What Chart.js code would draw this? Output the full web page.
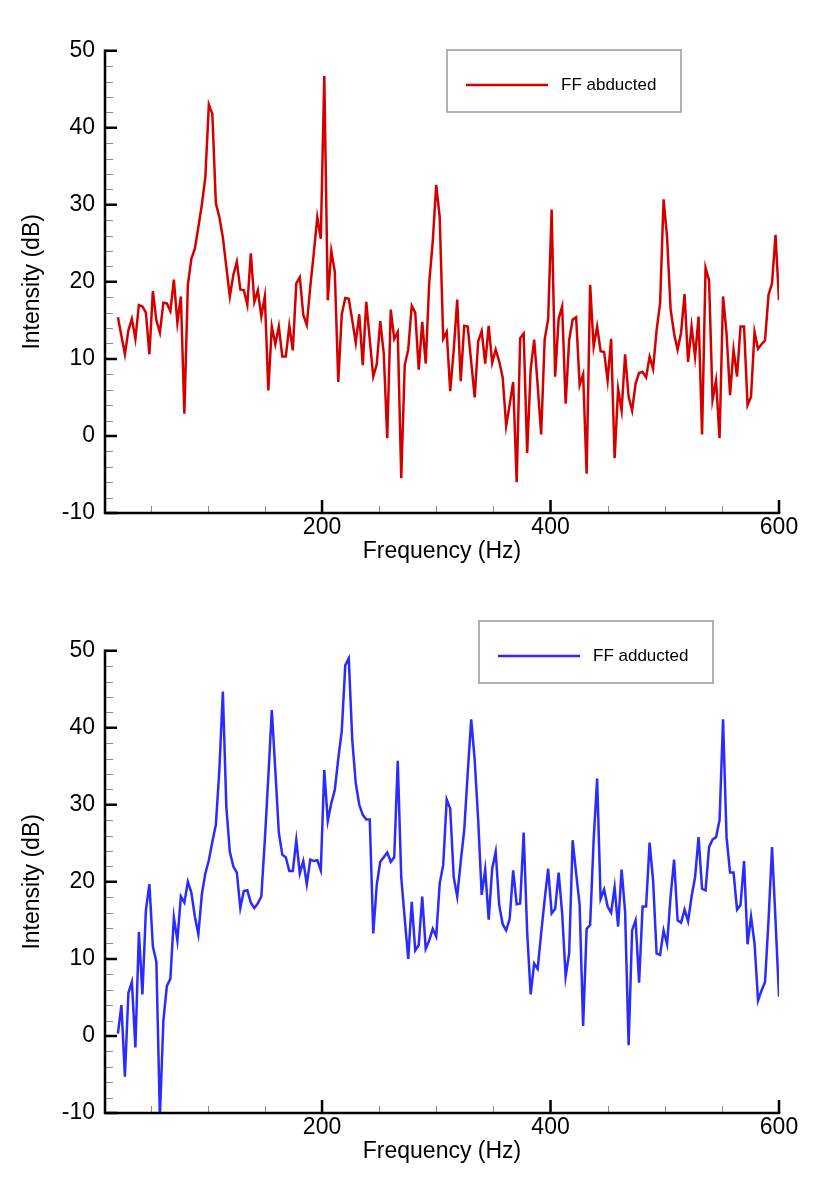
<!DOCTYPE html>
<html>
<head>
<meta charset="utf-8">
<title>FF abducted / FF adducted spectra</title>
<script src="https://cdn.jsdelivr.net/npm/chart.js@4.4.1/dist/chart.umd.min.js"></script>
<style>
    html, body { margin: 0; padding: 0; background: #fff; overflow: hidden; }
    .panel { position: absolute; left: 0; }
    .panel canvas { display: block; }
</style>
</head>
<body>
<div class="panel" style="top:0"><canvas id="abducted" width="819" height="590"></canvas></div>
<div class="panel" style="top:600px"><canvas id="adducted" width="819" height="579"></canvas></div>
<script>
(function () {
    "use strict";

    // Frequency bins (Hz): first bin and bin width
    var freqStart = 21.3;
    var freqStep = 3.062;

    // Intensity (dB) - FF abducted
    var abductedDb = [
        15.4, 13.0, 10.6, 13.7, 15.2, 12.6, 17.0, 16.8, 16.0, 10.6,
        18.8, 15.0, 13.4, 17.3, 17.2, 16.2, 20.3, 14.7, 18.1, 2.9,
        19.6, 23.0, 24.3, 27.1, 30.0, 33.6, 43.0, 41.8, 30.2, 28.4,
        25.8, 21.9, 18.1, 20.9, 22.6, 19.0, 18.9, 17.0, 23.7, 17.4,
        18.9, 15.5, 18.1, 5.9, 14.2, 11.9, 14.2, 10.3, 10.3, 14.3,
        11.1, 19.8, 20.6, 15.7, 14.4, 19.4, 23.7, 28.4, 25.6, 46.7,
        17.6, 24.0, 21.3, 7.0, 15.8, 17.9, 17.8, 15.0, 12.1, 15.8,
        9.2, 17.4, 12.5, 7.7, 9.3, 14.9, 10.7, -0.3, 16.4, 12.6,
        13.5, -5.5, 9.2, 11.2, 16.9, 16.0, 8.6, 14.8, 9.4, 19.9,
        25.2, 32.6, 28.4, 12.6, 13.5, 5.8, 11.1, 17.7, 7.1, 14.3,
        14.2, 9.6, 5.0, 12.3, 13.6, 9.4, 14.3, 9.5, 11.2, 9.7,
        7.6, 1.3, 4.1, 7.0, -6.0, 12.7, 13.3, -2.2, 8.6, 12.5,
        6.6, 0.2, 12.5, 15.2, 29.4, 7.7, 15.2, 16.8, 4.2, 12.4,
        15.1, 15.4, 6.6, 8.0, -4.9, 19.6, 11.6, 14.2, 11.0, 10.9,
        7.2, 12.6, -2.9, 6.1, 3.3, 10.6, 5.1, 3.3, 6.8, 8.2,
        8.3, 7.6, 10.3, 8.7, 13.7, 17.2, 30.7, 25.8, 16.5, 13.3,
        11.2, 13.4, 18.4, 9.6, 14.2, 10.3, 15.5, 0.2, 21.8, 20.2,
        4.7, 7.2, -0.3, 18.1, 13.3, 5.3, 11.2, 7.7, 14.2, 14.2,
        4.0, 5.1, 13.5, 11.3, 11.9, 12.4, 18.3, 19.8, 26.1, 17.6
    ];

    // Intensity (dB) - FF adducted
    var adductedDb = [
        0.3, 4.0, -5.3, 5.6, 7.0, -1.5, 13.5, 5.4, 16.3, 19.7,
        11.6, 9.6, -10.5, 2.0, 6.5, 7.4, 15.4, 12.4, 18.1, 17.3,
        20.0, 18.6, 15.5, 13.2, 18.4, 21.1, 22.8, 25.2, 27.4, 34.5,
        44.7, 29.7, 23.9, 22.0, 21.2, 16.6, 18.8, 18.9, 17.3, 16.6,
        17.2, 18.1, 25.4, 33.6, 42.3, 34.5, 26.4, 23.5, 23.2, 21.4,
        21.4, 25.4, 21.1, 22.7, 19.7, 22.9, 22.7, 22.8, 21.5, 34.5,
        27.9, 30.2, 31.9, 36.0, 39.6, 48.1, 49.0, 38.4, 32.8, 30.0,
        28.7, 28.1, 28.1, 13.3, 19.6, 22.6, 23.2, 23.8, 22.6, 23.2,
        35.7, 20.6, 15.2, 10.0, 17.4, 11.1, 11.8, 18.1, 11.3, 12.4,
        13.9, 12.9, 19.8, 22.2, 30.7, 29.5, 20.6, 18.1, 22.6, 26.7,
        34.1, 41.1, 35.8, 28.0, 18.3, 21.6, 15.1, 21.7, 23.9, 17.0,
        14.5, 13.7, 15.2, 21.5, 17.1, 17.2, 26.4, 13.5, 5.4, 9.4,
        8.7, 13.3, 17.7, 21.7, 15.9, 16.5, 21.2, 15.9, 7.7, 10.7,
        25.4, 21.1, 17.0, 1.3, 13.9, 14.4, 25.4, 33.4, 17.8, 19.0,
        16.8, 16.0, 19.3, 14.2, 21.6, 16.1, -1.2, 13.7, 15.0, 6.9,
        16.8, 16.8, 25.1, 20.2, 10.7, 10.5, 13.7, 11.9, 18.1, 22.9,
        15.0, 14.7, 16.4, 14.9, 18.1, 20.6, 25.8, 19.1, 18.9, 24.5,
        25.5, 25.8, 28.0, 41.1, 25.8, 21.2, 21.2, 16.4, 17.0, 22.7,
        11.9, 15.5, 12.0, 4.6, 5.9, 7.0, 15.0, 24.5, 15.0, 5.1
    ];

    // Axis ticks
    var xMajorTicks = [200, 400, 600];
    var xMinorStep = 50;
    var yMajorTicks = [-10, 0, 10, 20, 30, 40, 50];
    var yMinorStep = 2;

    var FONT = "'Liberation Sans', Arial, Helvetica, sans-serif";

    function toPoints(values) {
        return values.map(function (v, i) {
            return {x: freqStart + i * freqStep, y: v};
        });
    }


    // Axis lines + inward ticks (major black, minor grey)
    var axisFrame = {
        id: 'axisFrame',
        afterDatasetsDraw: function (chart) {
            var ctx = chart.ctx, a = chart.chartArea;
            var xs = chart.scales.x, ys = chart.scales.y;
            var f, d, p;
            ctx.save();

            ctx.strokeStyle = '#8a8a8a';
            ctx.lineWidth = 1;
            ctx.beginPath();
            for (f = xMinorStep; f < xs.max; f += xMinorStep) {
                if (f < xs.min || xMajorTicks.indexOf(f) >= 0) continue;
                p = Math.round(xs.getPixelForValue(f)) + 0.5;
                ctx.moveTo(p, a.bottom);
                ctx.lineTo(p, a.bottom - 7);
            }
            for (d = ys.min + yMinorStep; d < ys.max; d += yMinorStep) {
                if (yMajorTicks.indexOf(d) >= 0) continue;
                p = Math.round(ys.getPixelForValue(d)) + 0.5;
                ctx.moveTo(a.left, p);
                ctx.lineTo(a.left + 8, p);
            }
            ctx.stroke();

            ctx.strokeStyle = '#000';
            ctx.lineWidth = 2.5;
            ctx.beginPath();
            xMajorTicks.forEach(function (v) {
                p = xs.getPixelForValue(v);
                ctx.moveTo(p, a.bottom);
                ctx.lineTo(p, a.bottom - 13);
            });
            yMajorTicks.forEach(function (v) {
                p = ys.getPixelForValue(v);
                ctx.moveTo(a.left, p);
                ctx.lineTo(a.left + 12, p);
            });
            ctx.stroke();

            ctx.lineCap = 'square';
            ctx.lineJoin = 'miter';
            ctx.beginPath();
            ctx.moveTo(a.left, a.top);
            ctx.lineTo(a.left, a.bottom);
            ctx.lineTo(a.right, a.bottom);
            ctx.stroke();
            ctx.restore();
        }
    };

    // Boxed legend
    var boxLegend = {
        id: 'boxLegend',
        afterDraw: function (chart, args, opts) {
            var ctx = chart.ctx;
            var ds = chart.data.datasets[0];
            var cy = opts.top + 35;
            ctx.save();
            ctx.fillStyle = '#fff';
            ctx.fillRect(opts.left, opts.top, opts.width, opts.height);
            ctx.strokeStyle = '#9a9a9a';
            ctx.lineWidth = 1.5;
            ctx.strokeRect(opts.left, opts.top, opts.width, opts.height);

            ctx.strokeStyle = ds.borderColor;
            ctx.lineWidth = 2.5;
            ctx.beginPath();
            ctx.moveTo(opts.left + 19, cy);
            ctx.lineTo(opts.left + 101, cy);
            ctx.stroke();

            ctx.fillStyle = '#000';
            ctx.font = '17px ' + FONT;
            ctx.textBaseline = 'middle';
            ctx.fillText(ds.label, opts.left + 114, cy);
            ctx.restore();
        }
    };


    function spectrumChart(id, label, values, color, legendBox) {
        var canvas = document.getElementById(id);
        var h = canvas.height;
        return new Chart(canvas.getContext('2d'), {
            type: 'line',
            data: {
                datasets: [{
                    label: label,
                    data: toPoints(values),
                    borderColor: color,
                    backgroundColor: color,
                    borderWidth: 2.5,
                    pointRadius: 0,
                    tension: 0,
                    fill: false
                }]
            },
            options: {
                responsive: false,
                animation: false,
                events: [],
                layout: {padding: {top: 50.7, right: 40, bottom: 0, left: 0}},
                plugins: {
                    legend: {display: false},
                    tooltip: {enabled: false},
                    boxLegend: legendBox
                },
                scales: {
                    x: {
                        type: 'linear',
                        min: 10,
                        max: 600,
                        afterBuildTicks: function (s) {
                            s.ticks = xMajorTicks.map(function (v) { return {value: v}; });
                        },
                        afterFit: function (s) { s.height = h - 513; },
                        grid: {display: false, drawTicks: false},
                        border: {display: false},
                        ticks: {color: '#000', padding: 1, maxRotation: 0,
                                font: {family: FONT, size: 23}},
                        title: {display: true, text: 'Frequency (Hz)', color: '#000',
                                font: {family: FONT, size: 23},
                                padding: {top: 0, bottom: h - 552 - 13.8}}
                    },
                    y: {
                        min: -10,
                        max: 50,
                        afterBuildTicks: function (s) {
                            s.ticks = yMajorTicks.map(function (v) { return {value: v}; });
                        },
                        afterFit: function (s) { s.width = 105; },
                        grid: {display: false, drawTicks: false},
                        border: {display: false},
                        ticks: {color: '#000', padding: 10,
                                font: {family: FONT, size: 23}},
                        title: {display: true, text: 'Intensity (dB)', color: '#000',
                                font: {family: FONT, size: 23},
                                padding: {top: 18.7, bottom: 0}}
                    }
                }
            },
            plugins: [axisFrame, boxLegend]
        });
    }

    spectrumChart('abducted', 'FF abducted', abductedDb, '#d40000',
        {left: 447, top: 50, width: 234, height: 62});

    spectrumChart('adducted', 'FF adducted', adductedDb, '#2b2bff',
        {left: 479, top: 21, width: 234, height: 62});

})();
</script>
</body>
</html>
